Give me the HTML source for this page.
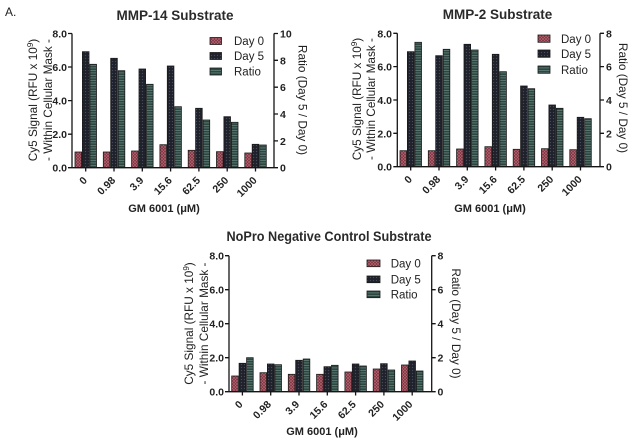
<!DOCTYPE html>
<html><head><meta charset="utf-8"><style>
html,body{margin:0;padding:0;background:#fff;width:640px;height:444px;overflow:hidden}
svg{display:block;font-family:"Liberation Sans",Arial,sans-serif}
.ax{stroke:#151515;stroke-width:1.3;fill:none}
.tl{font-size:10.5px;font-weight:bold;fill:#222}
.lg{font-size:11.5px;fill:#222}
.tt{font-size:13.5px;font-weight:bold;fill:#2a2a2a}
.yt{font-size:11.8px;fill:#222}
.xt{font-size:11px;font-weight:bold;fill:#222}
.d0{fill:url(#p0);stroke:#1a1a1a;stroke-width:0.8}
.d5{fill:url(#p5);stroke:#1a1a1a;stroke-width:0.8}
.r{fill:url(#pr);stroke:#1a1a1a;stroke-width:0.8}
</style></head><body>
<svg width="640" height="444" viewBox="0 0 640 444" xmlns="http://www.w3.org/2000/svg">
<defs>
<pattern id="p0" width="3" height="3" patternUnits="userSpaceOnUse"><rect width="3" height="3" fill="#7a3340"/><path d="M0,0L3,3M3,0L0,3" stroke="#b86874" stroke-width="0.6"/></pattern>
<pattern id="p5" width="3" height="3" patternUnits="userSpaceOnUse"><rect width="3" height="3" fill="#1f212b"/><circle cx="1.5" cy="1.5" r="0.65" fill="#454a5c"/></pattern>
<pattern id="pr" width="3" height="2.5" patternUnits="userSpaceOnUse"><rect width="3" height="2.5" fill="#2d4640"/><rect y="0" width="3" height="0.8" fill="#61807a"/></pattern>
</defs>

<text x="5" y="16" style="font-size:12px;fill:#222">A.</text>

<!-- ============ Chart 1 ============ -->
<text class="tt" x="175" y="20" text-anchor="middle">MMP-14 Substrate</text>
<g>
<rect class="d0" x="75" y="152" width="6.6" height="15.7"/>
<rect class="d0" x="103.3" y="152" width="6.6" height="15.7"/>
<rect class="d0" x="131.6" y="151" width="6.6" height="16.7"/>
<rect class="d0" x="159.9" y="144.7" width="6.6" height="23"/>
<rect class="d0" x="188.2" y="150.3" width="6.6" height="17.4"/>
<rect class="d0" x="216.5" y="151.7" width="6.6" height="16"/>
<rect class="d0" x="244.8" y="153" width="6.6" height="14.7"/>
<rect class="d5" x="82.4" y="51.7" width="6.6" height="116"/>
<rect class="d5" x="110.7" y="58.3" width="6.6" height="109.4"/>
<rect class="d5" x="139" y="69" width="6.6" height="98.7"/>
<rect class="d5" x="167.3" y="66" width="6.6" height="101.7"/>
<rect class="d5" x="195.6" y="108.3" width="6.6" height="59.4"/>
<rect class="d5" x="223.9" y="116.7" width="6.6" height="51"/>
<rect class="d5" x="252.2" y="144.3" width="6.6" height="23.4"/>
<rect class="r" x="89.9" y="64.3" width="6.6" height="103.4"/>
<rect class="r" x="118.2" y="70.7" width="6.6" height="97"/>
<rect class="r" x="146.5" y="84.3" width="6.6" height="83.4"/>
<rect class="r" x="174.8" y="106.7" width="6.6" height="61"/>
<rect class="r" x="203.1" y="120" width="6.6" height="47.7"/>
<rect class="r" x="231.4" y="122.3" width="6.6" height="45.4"/>
<rect class="r" x="259.7" y="145" width="6.6" height="22.7"/>
</g>
<path class="ax" d="M72,33.5V167.7H274V33.5M68,33.5H72M68,67H72M68,100.6H72M68,134.2H72M68,167.7H72M274,33.5H278M274,60.3H278M274,87.2H278M274,114H278M274,140.9H278M274,167.7H278M85.7,167.7V171.5M114,167.7V171.5M142.3,167.7V171.5M170.6,167.7V171.5M198.9,167.7V171.5M227.2,167.7V171.5M255.5,167.7V171.5"/>
<g class="tl" text-anchor="end">
<text x="67" y="37.5">8.0</text><text x="67" y="71">6.0</text><text x="67" y="104.6">4.0</text><text x="67" y="138.2">2.0</text><text x="67" y="171.7">0.0</text>
</g>
<g class="tl">
<text x="280" y="37.5">10</text><text x="280" y="64.3">8</text><text x="280" y="91.2">6</text><text x="280" y="118">4</text><text x="280" y="144.9">2</text><text x="280" y="171.7">0</text>
</g>
<g class="tl" text-anchor="end">
<text transform="translate(87.7,181) rotate(-45)">0</text>
<text transform="translate(116,181) rotate(-45)">0.98</text>
<text transform="translate(144.3,181) rotate(-45)">3.9</text>
<text transform="translate(172.6,181) rotate(-45)">15.6</text>
<text transform="translate(200.9,181) rotate(-45)">62.5</text>
<text transform="translate(229.2,181) rotate(-45)">250</text>
<text transform="translate(257.5,181) rotate(-45)">1000</text>
</g>
<text class="xt" x="164" y="212" text-anchor="middle">GM 6001 (μM)</text>
<text class="yt" transform="translate(37,100) rotate(-90)" text-anchor="middle">Cy5 Signal (RFU x 10<tspan dy="-4" style="font-size:8px">9</tspan><tspan dy="4">)</tspan></text>
<text class="yt" transform="translate(52,100) rotate(-90)" text-anchor="middle">- Within Cellular Mask -</text>
<text class="yt" transform="translate(298.5,100) rotate(90)" text-anchor="middle">Ratio (Day 5 / Day 0)</text>
<rect class="d0" x="210" y="37.5" width="11.5" height="7"/>
<rect class="d5" x="210" y="52.5" width="11.5" height="7"/>
<rect class="r" x="210" y="68" width="11.5" height="7"/>
<text class="lg" x="234" y="45">Day 0</text>
<text class="lg" x="234" y="60">Day 5</text>
<text class="lg" x="234" y="75.5">Ratio</text>

<!-- ============ Chart 2 ============ -->
<text class="tt" x="497.5" y="19" text-anchor="middle">MMP-2 Substrate</text>
<g>
<rect class="d0" x="400" y="150.7" width="6.6" height="16"/>
<rect class="d0" x="428.3" y="150.7" width="6.6" height="16"/>
<rect class="d0" x="456.6" y="149" width="6.6" height="17.7"/>
<rect class="d0" x="484.9" y="146.7" width="6.6" height="20"/>
<rect class="d0" x="513.2" y="149.3" width="6.6" height="17.4"/>
<rect class="d0" x="541.5" y="148.7" width="6.6" height="18"/>
<rect class="d0" x="569.8" y="149.7" width="6.6" height="17"/>
<rect class="d5" x="407.4" y="51.7" width="6.6" height="115"/>
<rect class="d5" x="435.7" y="55.7" width="6.6" height="111"/>
<rect class="d5" x="464" y="44.3" width="6.6" height="122.4"/>
<rect class="d5" x="492.3" y="54.3" width="6.6" height="112.4"/>
<rect class="d5" x="520.6" y="86" width="6.6" height="80.7"/>
<rect class="d5" x="548.9" y="105" width="6.6" height="61.7"/>
<rect class="d5" x="577.2" y="117.3" width="6.6" height="49.4"/>
<rect class="r" x="414.9" y="42.3" width="6.6" height="124.4"/>
<rect class="r" x="443.2" y="49.3" width="6.6" height="117.4"/>
<rect class="r" x="471.5" y="50" width="6.6" height="116.7"/>
<rect class="r" x="499.8" y="71.7" width="6.6" height="95"/>
<rect class="r" x="528.1" y="88.7" width="6.6" height="78"/>
<rect class="r" x="556.4" y="108.3" width="6.6" height="58.4"/>
<rect class="r" x="584.7" y="118.7" width="6.6" height="48"/>
</g>
<path class="ax" d="M397.3,33.3V166.7H600V33.3M393.3,33.3H397.3M393.3,66.6H397.3M393.3,100H397.3M393.3,133.3H397.3M393.3,166.7H397.3M600,33.3H604M600,66.6H604M600,100H604M600,133.3H604M600,166.7H604M410.7,166.7V170.5M439,166.7V170.5M467.3,166.7V170.5M495.6,166.7V170.5M523.9,166.7V170.5M552.2,166.7V170.5M580.5,166.7V170.5"/>
<g class="tl" text-anchor="end">
<text x="392" y="37.3">8.0</text><text x="392" y="70.6">6.0</text><text x="392" y="104">4.0</text><text x="392" y="137.3">2.0</text><text x="392" y="170.7">0.0</text>
</g>
<g class="tl">
<text x="606" y="37.3">8</text><text x="606" y="70.6">6</text><text x="606" y="104">4</text><text x="606" y="137.3">2</text><text x="606" y="170.7">0</text>
</g>
<g class="tl" text-anchor="end">
<text transform="translate(412.7,180) rotate(-45)">0</text>
<text transform="translate(441,180) rotate(-45)">0.98</text>
<text transform="translate(469.3,180) rotate(-45)">3.9</text>
<text transform="translate(497.6,180) rotate(-45)">15.6</text>
<text transform="translate(525.9,180) rotate(-45)">62.5</text>
<text transform="translate(554.2,180) rotate(-45)">250</text>
<text transform="translate(582.5,180) rotate(-45)">1000</text>
</g>
<text class="xt" x="490" y="212" text-anchor="middle">GM 6001 (μM)</text>
<text class="yt" transform="translate(361,99) rotate(-90)" text-anchor="middle">Cy5 Signal (RFU x 10<tspan dy="-4" style="font-size:8px">9</tspan><tspan dy="4">)</tspan></text>
<text class="yt" transform="translate(375,99) rotate(-90)" text-anchor="middle">- Within Cellular Mask -</text>
<text class="yt" transform="translate(619,98) rotate(90)" text-anchor="middle">Ratio (Day 5 / Day 0)</text>
<rect class="d0" x="538" y="35" width="12" height="7.3"/>
<rect class="d5" x="538" y="50" width="12" height="7.3"/>
<rect class="r" x="538" y="66" width="12" height="7.3"/>
<text class="lg" x="561" y="43">Day 0</text>
<text class="lg" x="561" y="58">Day 5</text>
<text class="lg" x="561" y="74">Ratio</text>

<!-- ============ Chart 3 ============ -->
<text class="tt" x="329" y="241" text-anchor="middle" textLength="205" lengthAdjust="spacingAndGlyphs">NoPro Negative Control Substrate</text>
<g>
<rect class="d0" x="231.7" y="376" width="6.6" height="15.7"/>
<rect class="d0" x="260" y="372.7" width="6.6" height="19"/>
<rect class="d0" x="288.3" y="374.3" width="6.6" height="17.4"/>
<rect class="d0" x="316.6" y="374.3" width="6.6" height="17.4"/>
<rect class="d0" x="344.9" y="372" width="6.6" height="19.7"/>
<rect class="d0" x="373.2" y="369" width="6.6" height="22.7"/>
<rect class="d0" x="401.5" y="365" width="6.6" height="26.7"/>
<rect class="d5" x="239.1" y="363.3" width="6.6" height="28.4"/>
<rect class="d5" x="267.4" y="364" width="6.6" height="27.7"/>
<rect class="d5" x="295.7" y="360.3" width="6.6" height="31.4"/>
<rect class="d5" x="324" y="366.7" width="6.6" height="25"/>
<rect class="d5" x="352.3" y="364" width="6.6" height="27.7"/>
<rect class="d5" x="380.6" y="363.7" width="6.6" height="28"/>
<rect class="d5" x="408.9" y="361" width="6.6" height="30.7"/>
<rect class="r" x="246.6" y="357.7" width="6.6" height="34"/>
<rect class="r" x="274.9" y="364.7" width="6.6" height="27"/>
<rect class="r" x="303.2" y="359" width="6.6" height="32.7"/>
<rect class="r" x="331.5" y="365.3" width="6.6" height="26.4"/>
<rect class="r" x="359.8" y="366" width="6.6" height="25.7"/>
<rect class="r" x="388.1" y="370" width="6.6" height="21.7"/>
<rect class="r" x="416.4" y="371" width="6.6" height="20.7"/>
</g>
<path class="ax" d="M229,255.7V391.7H431.7V255.7M225,255.7H229M225,289.7H229M225,323.7H229M225,357.7H229M225,391.7H229M431.7,255.7H435.7M431.7,289.7H435.7M431.7,323.7H435.7M431.7,357.7H435.7M431.7,391.7H435.7M242.4,391.7V395.5M270.7,391.7V395.5M299,391.7V395.5M327.3,391.7V395.5M355.6,391.7V395.5M383.9,391.7V395.5M412.2,391.7V395.5"/>
<g class="tl" text-anchor="end">
<text x="224" y="259.7">8.0</text><text x="224" y="293.7">6.0</text><text x="224" y="327.7">4.0</text><text x="224" y="361.7">2.0</text><text x="224" y="395.7">0.0</text>
</g>
<g class="tl">
<text x="437.5" y="259.7">8</text><text x="437.5" y="293.7">6</text><text x="437.5" y="327.7">4</text><text x="437.5" y="361.7">2</text><text x="437.5" y="395.7">0</text>
</g>
<g class="tl" text-anchor="end">
<text transform="translate(243.4,405) rotate(-45)">0</text>
<text transform="translate(271.7,405) rotate(-45)">0.98</text>
<text transform="translate(300,405) rotate(-45)">3.9</text>
<text transform="translate(328.3,405) rotate(-45)">15.6</text>
<text transform="translate(356.6,405) rotate(-45)">62.5</text>
<text transform="translate(384.9,405) rotate(-45)">250</text>
<text transform="translate(413.2,405) rotate(-45)">1000</text>
</g>
<text class="xt" x="322" y="435" text-anchor="middle">GM 6001 (μM)</text>
<text class="yt" transform="translate(193,323.5) rotate(-90)" text-anchor="middle">Cy5 Signal (RFU x 10<tspan dy="-4" style="font-size:8px">9</tspan><tspan dy="4">)</tspan></text>
<text class="yt" transform="translate(208,323.5) rotate(-90)" text-anchor="middle">- Within Cellular Mask -</text>
<text class="yt" transform="translate(452,323.5) rotate(90)" text-anchor="middle">Ratio (Day 5 / Day 0)</text>
<rect class="d0" x="367" y="260" width="13" height="6.7"/>
<rect class="d5" x="367" y="276" width="13" height="6.7"/>
<rect class="r" x="367" y="291" width="13" height="6.7"/>
<text class="lg" x="390.7" y="267.5">Day 0</text>
<text class="lg" x="390.7" y="283.5">Day 5</text>
<text class="lg" x="390.7" y="298.5">Ratio</text>
</svg>
</body></html>
